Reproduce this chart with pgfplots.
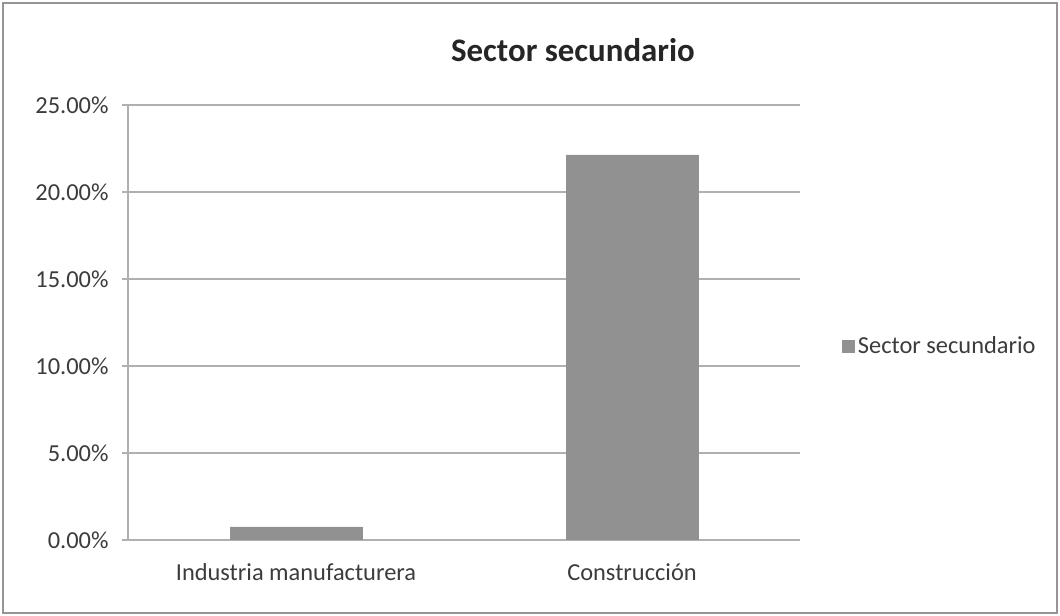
\documentclass[border=0pt]{standalone}
\usepackage{fontspec}
\setmainfont{Carlito}
\usepackage{pgfplots}
\pgfplotsset{compat=1.18}
\definecolor{barcol}{RGB}{145,145,145}
\definecolor{gridcol}{RGB}{176,176,176}
\definecolor{framecol}{RGB}{150,150,150}
\definecolor{txtcol}{RGB}{60,60,60}
\begin{document}
\begin{tikzpicture}[x=1bp,y=1bp]
\draw[use as bounding box,draw=none] (0,0) rectangle (1060,616);
\draw[framecol,line width=2bp] (3,3) rectangle (1057,613);
\node[font=\fontsize{33}{36}\selectfont\bfseries, text=black!85] at (573,566) {Sector secundario};
\begin{axis}[
  at={(128bp,76bp)}, anchor=south west,
  scale only axis, width=672bp, height=435bp,
  xmin=-0.5, xmax=1.5, ymin=0, ymax=25,
  axis x line*=bottom, axis y line*=left,
  axis line style={gridcol,line width=1.2bp},
  ytick={0,5,...,25},
  yticklabel={\pgfmathprintnumber[fixed,fixed zerofill,precision=2]{\tick}\%},
  /pgf/number format/assume math mode=true,
  ymajorgrids, grid style={gridcol,line width=1.2bp},
  tick align=outside, major tick length=6bp,
  tick style={gridcol,line width=1.2bp},
  xtick={0,1}, xticklabels={Industria manufacturera,Construcción},
  x tick style={draw=none},
  extra x ticks={-0.5,0.5,1.5}, extra x tick labels={},
  extra x tick style={tick style={gridcol,line width=1.2bp}, grid=none},
  ticklabel style={font=\fontsize{24.5}{27}\selectfont, text=txtcol},
  yticklabel style={xshift=-10bp},
  xticklabel style={yshift=-14bp},
  ybar, bar width=132bp,
  legend style={at={(1.057,0.446)}, anchor=west, draw=none, fill=none,
    font=\fontsize{24.5}{27}\selectfont, text=txtcol},
  legend image code/.code={\fill[barcol] (0bp,-6bp) rectangle (12bp,6bp);},
]
\addplot[fill=barcol, draw=barcol] coordinates {(0,0.75) (1,22.13)};
\addlegendentry{\hspace{2bp}Sector secundario}
\end{axis}
\end{tikzpicture}
\end{document}
